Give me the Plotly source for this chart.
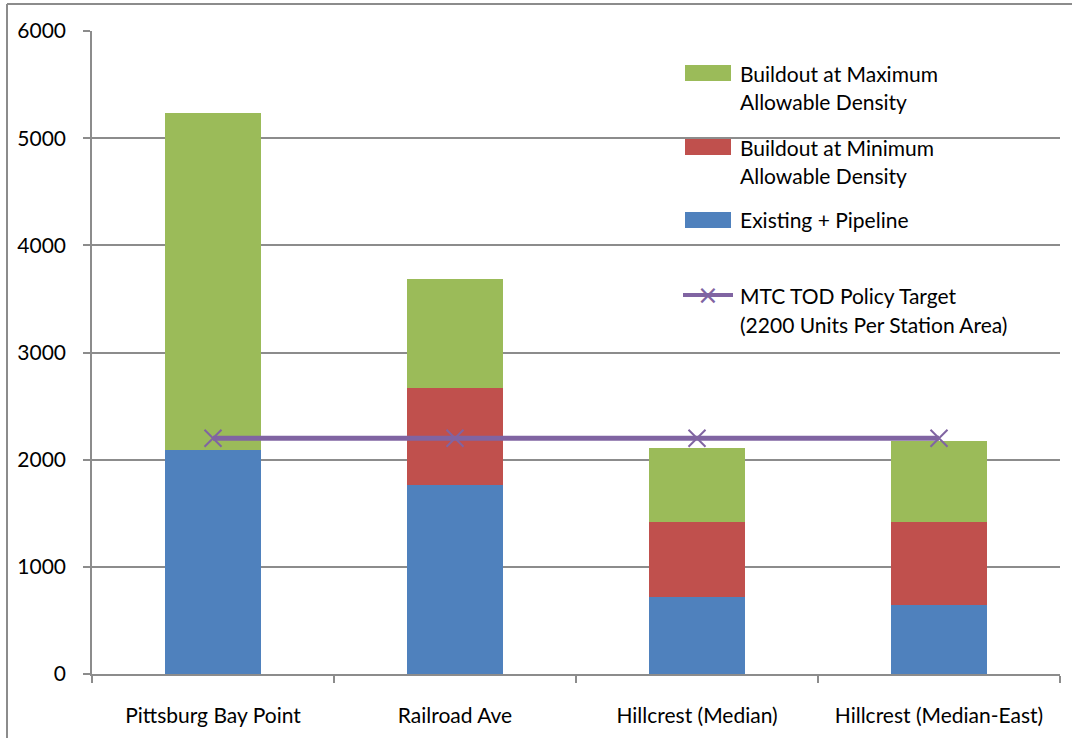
import plotly.graph_objects as go

categories = ["Pittsburg Bay Point", "Railroad Ave", "Hillcrest (Median)", "Hillcrest (Median-East)"]
existing_pipeline = [2090, 1765, 718, 644]
min_density_add = [0, 901, 697, 771]
max_density_add = [3145, 1020, 691, 759]
target_values = [2200, 2200, 2200, 2200]

names = {
    "max": "Buildout at Maximum|Allowable Density",
    "min": "Buildout at Minimum|Allowable Density",
    "exist": "Existing + Pipeline",
    "target": "MTC TOD Policy Target|(2200 Units Per Station Area)",
}
colors = {"exist": "#4F81BD", "min": "#C0504D", "max": "#9BBB59", "target": "#8064A2"}

W, H = 1072, 738
L, R, T, B = 92, 12, 31, 64
PW, PH = W - L - R, H - T - B
FONT = "Lato"


def px(x):
    return (x - L) / PW


def py(y):
    return (H - B - y) / PH


fig = go.Figure()
fig.add_bar(x=categories, y=existing_pipeline, name=names["exist"], marker=dict(color=colors["exist"], line_width=0))
fig.add_bar(x=categories, y=min_density_add, name=names["min"], marker=dict(color=colors["min"], line_width=0))
fig.add_bar(x=categories, y=max_density_add, name=names["max"], marker=dict(color=colors["max"], line_width=0))
fig.add_scatter(x=categories, y=target_values, name=names["target"], mode="lines+markers",
                line=dict(color=colors["target"], width=5),
                marker=dict(symbol="x-thin-open", size=17, color=colors["target"],
                            line=dict(color=colors["target"], width=2)))

gridc = "#8c8c8c"
fig.update_layout(
    width=W, height=H,
    margin=dict(l=L, r=R, t=T, b=B, pad=0),
    barmode="stack", bargap=0.6,
    showlegend=False,
    plot_bgcolor="white", paper_bgcolor="white",
    font=dict(family=FONT, color="black"),
)
fig.update_yaxes(range=[0, 6000], dtick=1000, showgrid=True, gridcolor=gridc, gridwidth=1.5,
                 showline=True, linecolor=gridc, linewidth=1.5, ticks="outside", ticklen=7,
                 tickcolor=gridc, tickwidth=1.5, tickfont=dict(size=21, family=FONT),
                 ticklabelstandoff=13, zeroline=False)
fig.update_xaxes(showline=True, linecolor=gridc, linewidth=1.5, ticks="outside", ticklen=7,
                 tickcolor=gridc, tickwidth=1.5, tickson="boundaries",
                 tickfont=dict(size=21, family=FONT), ticklabelstandoff=22, range=[-0.5, 3.5])

shapes = []
annotations = []
# outer border (left and top)
shapes.append(dict(type="line", xref="paper", yref="paper", x0=px(7), x1=px(7), y0=py(4), y1=py(760),
                   line=dict(color=gridc, width=2)))
shapes.append(dict(type="line", xref="paper", yref="paper", x0=px(7), x1=px(1100), y0=py(4), y1=py(4),
                   line=dict(color=gridc, width=2)))

# manual legend
legend_items = [("max", 73), ("min", 147), ("exist", 220), ("target", 295)]
for key, yc in legend_items:
    if key == "target":
        shapes.append(dict(type="line", xref="paper", yref="paper", x0=px(683), x1=px(733), y0=py(yc), y1=py(yc),
                           line=dict(color=colors[key], width=4)))
        annotations.append(dict(x=px(708), y=py(yc), xref="paper", yref="paper", text="×", showarrow=False,
                                font=dict(size=26, color=colors[key], family="DejaVu Sans"),
                                xanchor="center", yanchor="middle"))
    else:
        shapes.append(dict(type="rect", xref="paper", yref="paper", x0=px(685), x1=px(731),
                           y0=py(yc + 8), y1=py(yc - 8), fillcolor=colors[key], line_width=0))
    for i, line in enumerate(names[key].split("|")):
        annotations.append(dict(x=px(738), y=py(yc + i * 29), xref="paper", yref="paper", text=line,
                                showarrow=False, xanchor="left", yanchor="middle",
                                font=dict(size=21, family=FONT, color="black")))

fig.update_layout(shapes=shapes, annotations=annotations)
fig.write_html("out.html")
